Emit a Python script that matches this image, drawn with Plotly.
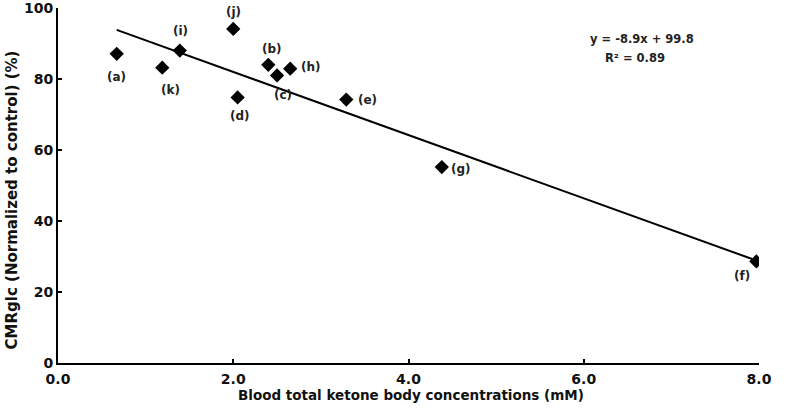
import plotly.graph_objects as go

labels = ["(a)", "(b)", "(c)", "(d)", "(e)", "(f)", "(g)", "(h)", "(i)", "(j)", "(k)"]
ketone = [0.67, 2.40, 2.50, 2.05, 3.29, 7.97, 4.38, 2.65, 1.39, 2.00, 1.19]
cmrglc = [87.1, 84.0, 81.0, 74.8, 74.2, 28.6, 55.2, 82.9, 88.0, 94.1, 83.2]
slope = -8.9
intercept = 99.8
x_ticks = [0, 2, 4, 6, 8]
x_ticklabels = ["0.0", "2.0", "4.0", "6.0", "8.0"]
y_ticks = [0, 20, 40, 60, 80, 100]

# label offsets in pixels (xshift, yshift)
offsets = {
    "(a)": (0, -23), "(b)": (4, 16), "(c)": (6, -20), "(d)": (2, -19),
    "(e)": (21, 0), "(f)": (-14, -15), "(g)": (19, -2), "(h)": (21, 2),
    "(i)": (1, 20), "(j)": (0, 17), "(k)": (8, -22),
}

FONT = "DejaVu Sans"

fig = go.Figure()
xmin, xmax = min(ketone), max(ketone)
fig.add_trace(go.Scatter(
    x=[xmin, xmax], y=[slope * xmin + intercept, slope * xmax + intercept],
    mode="lines", line=dict(color="black", width=2), hoverinfo="skip", showlegend=False))
fig.add_trace(go.Scatter(
    x=ketone, y=cmrglc, mode="markers",
    marker=dict(symbol="diamond", size=11, color="black"), showlegend=False))

for lab, xv, yv in zip(labels, ketone, cmrglc):
    dx, dy = offsets[lab]
    fig.add_annotation(x=xv, y=yv, text="<b>" + lab + "</b>", showarrow=False,
                       xshift=dx, yshift=dy, font=dict(family=FONT, size=12, color="#222"))

fig.add_annotation(x=6.67, y=91.3, text="<b>y = -8.9x + 99.8</b>", showarrow=False,
                   font=dict(family=FONT, size=11.5, color="#222"))
fig.add_annotation(x=6.58, y=86.0, text="<b>R² = 0.89</b>", showarrow=False,
                   font=dict(family=FONT, size=11.5, color="#222"))

# axis titles
fig.add_annotation(xref="paper", yref="paper", x=0.504, y=-0.09,
                   xanchor="center", yanchor="middle",
                   text="<b>Blood total ketone body concentrations (mM)</b>", showarrow=False,
                   font=dict(family=FONT, size=13.5, color="#111"))
fig.add_annotation(xref="paper", yref="paper", x=-0.066, y=0.46, textangle=-90,
                   xanchor="center", yanchor="middle",
                   text="<b>CMRglc (Normalized to control) (%)</b>", showarrow=False,
                   font=dict(family=FONT, size=15, color="#111"))

fig.update_layout(
    width=789, height=409,
    margin=dict(l=58, r=30, t=8, b=46),
    plot_bgcolor="white", paper_bgcolor="white",
    font=dict(family=FONT, color="#111"),
    xaxis=dict(range=[0, 8], tickvals=x_ticks, ticktext=["<b>%s</b>" % t for t in x_ticklabels],
               showgrid=False, zeroline=False, showline=True, linecolor="black", linewidth=2,
               ticks="inside", ticklen=4, tickcolor="black", tickwidth=1.5,
               tickfont=dict(family=FONT, size=14), automargin=False,
               ticklabeloverflow="allow", ticklabelstandoff=2),
    yaxis=dict(range=[0, 100], tickvals=y_ticks, ticktext=["<b>%d</b>" % t for t in y_ticks],
               showgrid=False, zeroline=False, showline=True, linecolor="black", linewidth=2,
               ticks="inside", ticklen=4, tickcolor="black", tickwidth=1.5,
               tickfont=dict(family=FONT, size=14), automargin=False,
               ticklabeloverflow="allow"),
)

fig.write_html("out.html", config={"displayModeBar": False},
               post_script="document.body.style.margin='0px';document.body.style.overflow='hidden';")
